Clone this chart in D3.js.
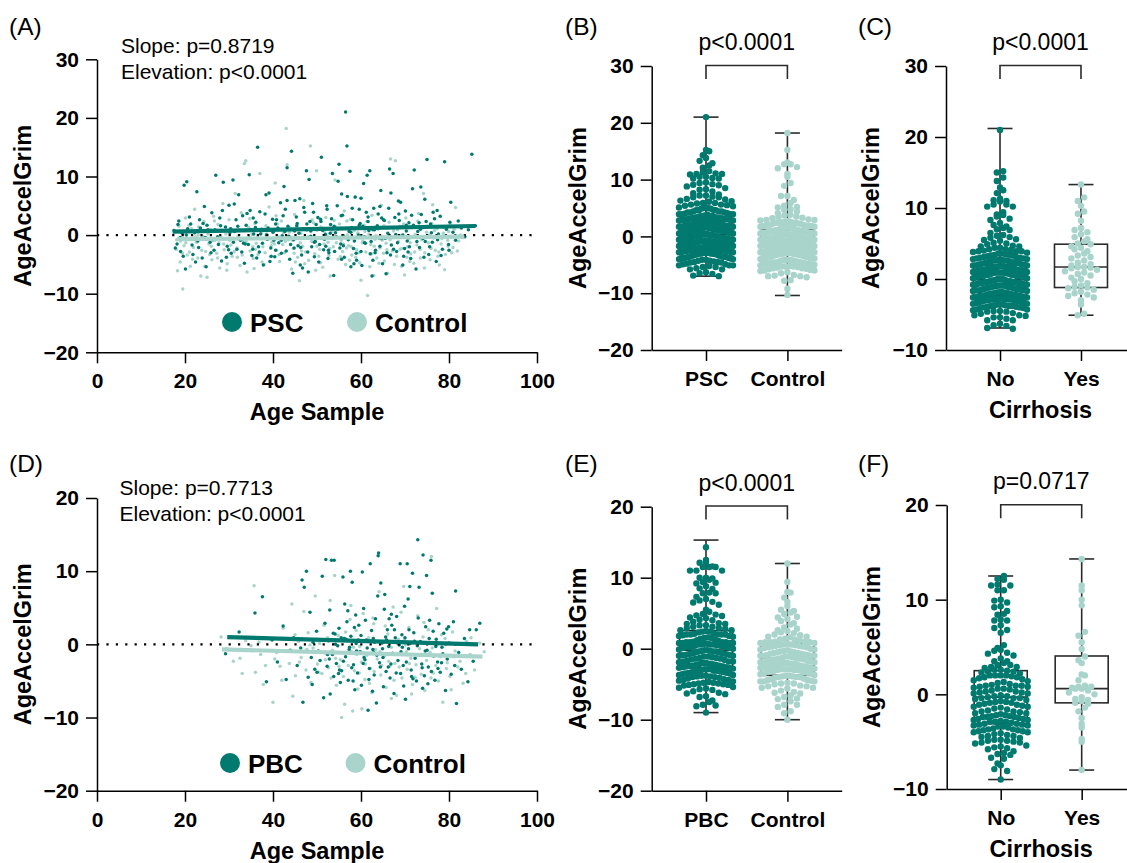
<!DOCTYPE html>
<html>
<head>
<meta charset="utf-8">
<title>AgeAccelGrim</title>
<script src="https://d3js.org/d3.v7.min.js"></script>
<style>
  body { margin: 0; background: #fff; }
  text { font-family: "Liberation Sans", Arial, sans-serif; }
</style>
</head>
<body>
<script>
// ---- data ----
// PSC patients [age, AgeAccelGrim], split by cirrhosis
var pscNoCirr = [[17.5,0.8],[18.2,-1.5],[18.6,2.4],[19.0,-2.8],[19.4,0.3],[19.8,8.5],[20.1,-5.8],[20.4,9.1],[20.9,-0.6],[21.3,1.9],[21.8,-3.3],[22.2,0.4],[22.7,7.4],[23.1,-2.1],[23.5,1.2],[23.9,-3.9],[24.4,4.9],[24.8,-5.4],[25.2,0.9],[25.7,-1.2],[26.1,3.8],[26.6,-2.6],[27.0,10.2],[27.4,-0.3],[27.9,2.9],[28.3,-4.4],[28.7,9.0],[29.2,1.4],[29.6,-1.9],[30.0,5.1],[30.5,-3.1],[30.9,9.4],[31.3,0.6],[31.8,-2.4],[32.2,6.9],[32.6,-0.9],[33.1,3.3],[33.5,-4.8],[33.9,1.7],[34.4,-1.6],[34.8,4.2],[35.2,-3.5],[35.6,0.2],[36.1,2.2],[36.5,15.0],[36.9,-2.9],[37.4,1.0],[37.8,-5.1],[38.2,3.6],[38.7,-0.7],[39.1,7.2],[39.5,-2.2],[40.0,0.5],[40.4,-3.7],[40.8,2.6],[41.3,-1.3],[41.7,5.5],[42.1,-0.1],[42.5,8.3],[43.0,-2.7],[43.4,1.5],[43.8,-4.1],[44.2,14.3],[44.5,-6.5],[44.9,0.7],[45.3,3.1],[45.7,-1.8],[46.1,6.2],[46.5,-3.4],[46.9,1.1],[47.3,-0.4],[47.6,11.0],[48.0,-6.3],[48.4,2.3],[48.8,-2.0],[49.2,3.9],[49.6,-1.1],[50.0,0.9],[50.4,-4.6],[50.8,2.7],[51.1,-0.6],[51.5,-2.5],[51.9,0.1],[52.3,4.4],[52.7,-3.0],[53.1,1.8],[53.5,10.5],[53.8,-6.9],[54.2,0.4],[54.6,5.0],[55.0,12.1],[55.4,-1.5],[55.8,3.4],[56.2,-3.8],[56.5,21.0],[56.8,15.2],[57.1,-0.8],[57.5,10.9],[57.9,1.3],[58.3,-2.3],[58.7,6.5],[59.0,-4.3],[59.4,0.0],[59.8,2.0],[60.2,-5.2],[60.6,8.8],[61.0,-1.4],[61.4,10.2],[61.8,0.8],[62.1,-3.2],[62.5,-7.0],[62.9,4.6],[63.3,-2.6],[63.7,1.6],[64.1,-0.5],[64.5,7.6],[64.9,-4.9],[65.3,2.5],[65.7,-6.6],[66.1,0.3],[66.5,11.3],[66.9,-1.7],[67.3,10.5],[67.7,3.0],[68.1,-2.8],[68.5,5.8],[68.9,-0.2],[69.3,1.4],[69.7,-3.6],[70.1,4.1],[70.5,-1.0],[70.9,2.1],[71.3,-4.0],[71.7,7.9],[72.1,11.1],[72.5,-5.8],[72.9,0.6],[73.3,-2.1],[73.7,3.5],[74.1,-0.6],[74.5,6.1],[75.0,12.9],[75.4,-3.3],[75.8,1.9],[76.2,-1.2],[76.7,2.8],[77.1,-4.5],[77.6,0.2],[78.0,3.2],[78.5,-2.4],[79.0,12.5],[79.4,1.0],[79.9,-1.6],[80.4,5.6],[80.9,0.5],[81.5,-0.9],[82.1,2.4],[82.8,1.2],[83.6,-0.3],[84.4,0.9],[85.2,13.8],[86.0,1.6],
  [18.9,-0.4],[20.6,1.1],[22.9,-1.0],[24.1,2.0],[26.3,-0.8],[28.1,1.6],[29.9,-2.5],[31.6,2.6],[33.3,-1.4],[35.0,0.9],[36.7,-2.0],[38.9,1.2],[40.2,-0.9],[42.3,3.3],[44.0,-1.6],[45.9,0.3],[47.9,-2.9],[49.8,1.8],[51.7,-0.7],[53.3,2.8],[55.2,-2.2],[57.3,0.6],[58.9,-3.1],[60.4,1.5],[62.3,-1.1],[63.9,3.6],[65.9,-3.0],[67.9,0.1],[69.9,-2.3],[71.9,1.7],[73.9,-0.4],[76.0,0.4],[78.2,-3.5],[80.2,2.2],[36.3,-3.9],[47.0,4.7],[55.6,-4.1],[61.2,3.9],[43.6,-0.2],[52.0,-1.9],
  [17.8,-2.2],[18.4,1.8],[19.6,-3.6],[20.3,0.0],[21.0,3.1],[21.6,-1.7],[22.4,-4.6],[23.3,2.6],[24.6,-0.4],[25.0,1.7],[25.9,-3.0],[26.8,0.9],[27.6,-1.6],[28.5,4.2],[29.4,-3.8],[30.2,0.4],[31.0,-1.2],[32.0,1.5],[32.9,-2.9],[34.1,3.7],[34.6,-0.5],[35.4,-2.4],[36.0,1.3],[37.0,4.0],[37.6,-1.4],[38.5,0.0],[39.3,-4.5],[39.9,2.7],[40.6,-2.6],[41.1,1.2],[41.9,-3.1],[42.7,0.6],[43.2,5.9],[44.7,-0.8],[45.5,2.0],[46.3,-2.1],[46.7,-5.6],[47.7,1.9],[48.6,-0.2],[49.0,5.4],[49.4,-3.7],[50.2,3.0],[50.6,-1.6],[51.3,0.8],[52.5,-4.0],[53.0,0.3],[54.0,-2.8],[54.8,1.1],[55.6,7.0],[56.0,-0.1],[57.7,-5.4],[58.1,2.6],[58.5,-1.0],[59.6,4.4],[60.0,-2.8],[60.8,-0.3],[61.6,2.3],[62.7,-4.3],[63.1,0.9],[64.3,-1.9],[64.7,2.9],[65.5,-0.6],[66.3,4.6],[66.7,-3.4],[67.5,1.3],[68.3,-1.3],[68.7,2.5],[69.5,-5.1],[70.3,0.7],[70.7,-2.9],[71.5,3.4],[72.7,-1.1],[73.5,1.0],[74.3,-3.8],[74.8,2.3],[75.6,-2.0],[76.4,3.9],[77.4,-0.8],[78.7,1.4],[80.0,-2.6]];
var pscCirr = [[46.2,-5.1],[58.4,-4.9],[39.6,-3.6],[63.2,-3.0],[52.6,-2.6],[67.4,-2.4],[44.8,-2.2],[71.0,-2.0],[56.0,-1.8],[33.7,-1.5],[60.8,-1.3],[49.4,-1.2],[74.6,-1.1],[41.9,-0.9],[64.7,-0.6],[54.4,-0.3],[69.5,0.0],[37.2,0.2],[57.7,0.5],[48.6,0.7],[62.7,0.9],[30.4,1.1],[66.2,1.3],[53.9,1.5],[45.4,1.6],[70.3,1.7],[59.6,1.7],[40.6,1.9],[73.2,2.1],[50.9,2.3],[65.1,2.6],[35.5,2.9],[61.6,3.1],[55.5,3.3],[68.6,3.6],[47.2,3.9],[77.3,4.2],[42.8,4.4],[58.0,4.6],[64.3,4.9],[52.2,5.0],[31.2,5.3],[69.0,5.6],[45.0,5.9],[60.0,6.3],[56.9,6.6],[38.4,6.9],[66.8,7.2],[73.6,8.2],[54.8,9.2],[48.2,9.5],[34.6,10.3],[62.0,11.0],[43.2,11.5],[51.0,13.3]];
// controls matched to PSC
var pscControl = [[18.0,-2.4],[18.3,-6.1],[18.6,1.5],[18.9,-4.6],[19.2,0.4],[19.5,-9.2],[19.8,-1.8],[20.1,2.9],[20.5,-3.4],[20.8,-0.6],[21.2,-5.3],[21.5,1.1],[21.9,-2.1],[22.2,4.4],[22.6,-1.2],[22.9,-3.9],[23.3,0.7],[23.6,-7.0],[24.0,-0.2],[24.3,2.3],[24.7,-2.8],[25.0,-7.2],[25.4,-1.5],[25.8,0.9],[26.1,-4.2],[26.5,3.2],[26.8,-0.9],[27.2,-3.1],[27.5,1.8],[27.9,-5.6],[28.2,-0.4],[28.6,5.4],[28.9,-2.5],[29.3,0.2],[29.6,-4.9],[30.0,2.6],[30.4,-1.7],[30.7,-3.6],[31.1,0.6],[31.4,7.1],[31.8,-2.2],[32.1,-0.1],[32.5,-5.2],[32.8,3.8],[33.2,-1.0],[33.5,12.2],[33.8,12.7],[34.1,-6.3],[34.5,1.3],[34.8,-2.7],[35.2,0.1],[35.5,-4.0],[35.9,2.0],[36.2,-1.4],[36.6,-3.3],[37.0,10.5],[37.3,0.5],[37.7,-2.0],[38.0,-5.0],[38.4,1.6],[38.7,-0.7],[39.1,4.8],[39.4,-3.7],[39.8,-1.2],[40.1,0.9],[40.5,8.9],[40.8,-2.6],[41.2,-0.3],[41.5,-4.5],[41.9,2.4],[42.2,-1.6],[42.6,-3.0],[43.0,18.2],[43.2,12.0],[43.5,-0.8],[43.9,1.2],[44.2,-5.8],[44.6,-2.3],[44.9,3.5],[45.3,-0.5],[45.6,-3.8],[46.0,-7.8],[46.3,0.3],[46.7,-1.9],[47.0,5.9],[47.4,-2.9],[47.7,0.8],[48.1,-4.3],[48.5,15.2],[48.8,-1.1],[49.2,2.1],[49.5,-3.2],[49.9,11.0],[50.2,-0.6],[50.6,-2.4],[50.9,1.4],[51.3,-5.5],[51.6,-1.5],[52.0,3.0],[52.3,-0.2],[52.7,-3.5],[53.0,-7.0],[53.4,0.6],[53.7,-2.0],[54.1,9.4],[54.4,-1.3],[54.8,-4.1],[55.1,1.9],[55.5,-0.9],[55.8,-2.8],[56.2,4.1],[56.5,-5.0],[56.9,0.0],[57.2,-1.8],[57.6,2.7],[57.9,-3.4],[58.3,-0.4],[58.6,6.4],[59.0,-2.5],[59.3,0.4],[59.7,-4.7],[60.0,-7.7],[60.4,-1.0],[60.7,1.7],[61.1,-2.9],[61.5,-10.3],[61.8,0.2],[62.2,-1.6],[62.5,3.4],[62.9,-6.9],[63.2,-0.7],[63.6,-3.9],[63.9,1.0],[64.3,-2.2],[64.6,5.1],[65.0,-0.3],[65.3,-4.4],[65.7,-1.4],[66.0,-6.5],[66.4,2.2],[66.7,13.0],[67.1,-2.7],[67.4,0.7],[67.8,12.7],[68.1,-3.6],[68.5,-1.1],[68.8,1.5],[69.2,-5.3],[69.5,-0.1],[69.9,-6.8],[70.2,2.9],[70.6,-2.0],[70.9,-0.6],[71.3,-3.2],[71.6,1.3],[72.0,-4.8],[72.3,0.1],[72.7,-1.7],[73.1,3.7],[73.4,-2.4],[73.8,-0.8],[74.2,7.1],[74.5,-3.0],[74.9,0.5],[75.3,-1.3],[75.7,-4.2],[76.1,2.0],[76.5,-0.5],[76.9,-2.6],[77.3,1.1],[77.8,-5.1],[78.2,-1.5],[78.7,0.3],[79.2,-3.3],[79.7,-0.9],[80.3,1.8],[80.9,-2.1],[81.5,4.7],[82.2,-1.0],[83.0,-0.4],
  [19.0,-1.0],[21.0,-2.9],[23.0,0.0],[25.6,-3.3],[27.7,-1.3],[29.8,0.7],[31.9,-3.8],[34.0,-0.6],[36.0,-2.4],[38.2,-3.0],[40.3,-1.5],[42.4,0.4],[44.4,-0.9],[46.5,-2.7],[48.3,1.0],[50.4,-3.6],[52.5,-1.2],[54.6,0.9],[56.7,-2.2],[58.8,-3.8],[60.9,0.6],[63.0,-1.9],[65.1,-3.1],[67.2,1.2],[69.3,-2.3],[71.4,-0.4],[73.5,-3.9],[75.6,0.0],[77.7,-2.9],[79.8,-1.9],[45.1,-4.6],[57.4,-4.3],[62.0,-5.4],[35.7,-5.7],[49.7,-6.0],[71.1,-4.5],[53.9,2.5],[41.0,1.9],[64.8,-0.9],[30.2,-0.9],
  [18.1,-0.8],[18.8,0.7],[19.4,-3.1],[20.2,-1.3],[20.9,1.7],[21.7,-4.1],[22.4,-0.3],[23.1,1.4],[23.8,-2.6],[24.5,-5.3],[25.2,0.2],[26.0,-1.9],[26.7,2.4],[27.4,-3.9],[28.0,0.6],[28.8,-1.5],[29.5,-6.0],[30.3,1.1],[31.2,-2.8],[32.3,0.9],[33.0,-3.4],[33.9,-1.1],[34.7,2.8],[35.4,-2.0],[36.4,-0.4],[37.5,-4.6],[38.6,0.2],[39.6,-1.8],[40.7,3.3],[41.4,-3.3],[42.8,-1.1],[43.7,0.5],[44.8,-3.1],[45.4,1.6],[46.2,-1.3],[47.2,-4.9],[47.9,-0.3],[48.9,2.6],[50.0,-1.9],[50.8,-4.7],[51.8,0.4],[52.9,-2.3],[53.6,-0.6],[54.3,1.4],[55.3,-3.7],[56.0,-1.5],[56.8,2.4],[57.8,-2.0],[58.5,0.8],[59.5,-3.0],[60.3,-1.3],[61.3,2.3],[62.4,-3.2],[63.4,-0.1],[64.1,-4.8],[65.2,1.6],[65.9,-2.5],[66.6,-0.8],[67.6,-5.0],[68.3,0.9],[68.9,-2.4],[69.7,1.9],[70.4,-3.8],[71.2,-1.3],[72.2,-2.9],[72.9,2.4],[73.6,-0.5],[74.4,-5.6],[75.1,1.5],[75.9,-2.3],[76.7,0.8],[77.5,-3.6],[78.4,-0.6],[79.0,-5.9],[79.9,0.6],[80.6,-3.0],[81.2,1.0],[81.9,-2.7],[82.6,0.0],[76.3,5.2]];

// PBC patients [age, AgeAccelGrim], split by cirrhosis
var pbcNoCirr = [[29.2,-1.3],[32.3,1.7],[35.9,4.3],[37.6,6.5],[38.5,-5.1],[39.8,0.6],[41.0,-2.4],[42.3,2.5],[43.0,-4.8],[43.9,-0.8],[44.7,0.9],[45.5,-2.9],[46.3,-0.5],[46.6,8.8],[46.8,-7.9],[47.1,7.8],[47.6,10.0],[48.0,-4.5],[48.4,4.4],[48.7,-1.8],[49.1,0.3],[49.5,-3.4],[49.9,1.8],[50.3,-0.9],[50.7,-2.2],[51.2,9.3],[51.5,-7.3],[51.8,2.9],[52.0,11.6],[52.3,-3.0],[52.6,0.5],[52.9,4.7],[53.3,11.5],[53.5,-1.4],[53.8,-4.4],[54.1,1.4],[54.4,-2.6],[54.7,-0.2],[55.0,2.2],[55.3,-5.2],[55.6,-3.6],[55.9,9.2],[56.2,0.8],[56.5,-1.7],[56.8,3.1],[57.1,-4.9],[57.4,-0.4],[57.7,1.1],[58.0,8.5],[58.3,-2.8],[58.6,-6.2],[58.9,0.1],[59.2,-3.9],[59.5,2.6],[59.8,-1.0],[60.1,-5.6],[60.3,9.9],[60.6,4.9],[60.9,-2.1],[61.2,0.6],[61.6,-9.0],[61.9,-3.3],[62.1,11.0],[62.4,1.9],[62.7,-0.7],[63.0,-4.2],[63.3,3.5],[63.6,-1.5],[63.9,12.1],[64.0,12.5],[64.2,-2.5],[64.5,8.4],[64.8,0.2],[65.1,-5.8],[65.4,6.8],[65.7,-3.7],[66.0,2.0],[66.3,-0.3],[66.6,-4.6],[66.9,4.1],[67.2,-1.2],[67.5,-6.7],[67.8,0.9],[68.1,3.8],[68.4,-2.2],[68.7,-0.1],[69.0,-4.0],[69.3,1.3],[69.6,-2.9],[69.9,5.2],[70.1,-7.5],[70.5,11.0],[70.8,-0.6],[71.1,7.9],[71.4,-3.5],[71.7,9.7],[72.0,1.6],[72.3,-1.9],[72.6,-5.0],[73.2,7.8],[73.5,0.4],[73.8,-2.7],[74.1,12.2],[74.4,-4.3],[74.7,2.4],[75.0,-0.8],[75.3,-3.1],[75.6,3.3],[75.9,11.5],[76.2,7.0],[76.5,-1.6],[76.8,-4.9],[77.1,0.7],[77.4,-2.4],[77.7,2.8],[78.0,-3.8],[78.4,-0.4],[78.8,1.5],[79.2,-6.3],[79.6,-2.0],[80.0,0.2],[80.5,-4.1],[81.0,3.1],[81.5,7.3],[81.7,-8.1],[82.2,-1.1],[82.8,-3.4],[83.5,0.8],[84.3,-5.1],[84.7,2.0],[85.5,-2.3],[86.2,2.0],[87.0,2.9],
  [50.0,-3.8],[52.8,-2.0],[54.9,-4.0],[56.0,-2.3],[57.9,-3.2],[59.0,-0.9],[60.5,-2.6],[61.8,-4.8],[62.9,-1.1],[64.4,-3.1],[65.6,1.0],[66.8,-2.7],[68.0,-3.9],[69.4,-0.4],[70.3,-2.4],[71.5,-4.4],[72.8,-0.2],[73.9,-3.2],[75.2,-5.4],[76.4,1.8],[77.5,-3.3],[78.6,-1.3],[79.9,2.4],[81.3,-2.9],[58.5,2.3],[63.1,0.3],[67.0,2.6],[71.2,0.1],[55.5,0.9],[60.0,1.2],[65.0,-1.8],[69.7,-5.7],[74.0,-6.0],[62.6,-6.4],[57.0,4.6],[66.4,3.5],[70.9,2.0],[48.9,-5.5],[53.0,-6.8],[76.0,-3.7]];
var pbcCirr = [[63.5,-8.0],[58.2,-5.0],[71.8,-4.7],[55.1,-3.5],[66.2,-3.1],[78.3,-2.5],[60.7,-1.8],[52.4,-1.4],[69.1,-1.0],[74.6,-0.9],[57.3,-0.7],[64.9,-0.6],[61.4,-0.5],[77.0,-0.3],[54.2,0.0],[68.3,0.2],[72.2,0.4],[59.4,0.6],[65.8,0.6],[56.6,0.7],[75.5,0.8],[62.8,0.8],[70.0,0.9],[53.7,1.5],[67.6,2.0],[79.5,2.1],[61.0,3.3],[73.0,3.6],[58.8,4.0],[65.3,4.8],[56.3,5.5],[70.7,6.2],[63.8,6.6],[74.9,9.4],[57.6,10.0],[68.9,11.0],[53.9,11.5],[72.9,14.3]];
var pbcControl = [[28.2,1.0],[29.5,-0.6],[31.0,-2.3],[32.5,-1.9],[33.8,0.5],[35.0,-0.2],[35.7,8.0],[36.0,-3.8],[37.2,-1.4],[38.3,-2.9],[39.1,0.8],[40.0,-7.9],[40.8,-1.1],[41.6,-3.0],[42.3,2.2],[43.0,-0.9],[43.7,-2.6],[44.3,5.5],[44.5,-7.1],[45.1,-4.3],[45.8,0.4],[46.4,-1.8],[47.0,4.5],[47.5,-3.5],[48.0,1.6],[48.6,-5.2],[49.1,-0.5],[49.6,6.6],[50.1,-2.7],[50.6,0.1],[51.1,-4.0],[51.6,2.6],[52.1,-1.3],[52.6,-3.2],[53.0,6.0],[53.5,-0.8],[54.0,9.4],[54.4,-5.6],[54.8,1.2],[55.3,-2.1],[55.6,-10.0],[56.0,-4.4],[56.3,-8.2],[56.7,0.6],[57.1,-2.9],[57.5,3.4],[57.9,-1.0],[58.1,-9.1],[58.5,-3.6],[58.9,1.9],[59.3,-6.1],[59.7,-0.3],[60.1,-2.4],[60.5,4.2],[60.9,-4.8],[61.3,-1.5],[61.7,0.9],[62.1,-3.3],[62.5,-6.6],[62.9,2.8],[63.3,-0.7],[63.7,-2.0],[64.1,7.2],[64.5,-4.2],[64.9,0.3],[65.3,-1.6],[65.7,-5.9],[66.1,1.4],[66.5,-3.0],[66.9,-0.4],[67.3,5.1],[67.7,-2.6],[68.1,-7.0],[68.5,0.7],[68.9,-1.2],[69.3,-4.6],[69.7,7.9],[70.1,-0.1],[70.5,-3.4],[70.9,2.3],[71.3,-1.9],[71.7,-5.5],[72.1,0.5],[72.5,-2.8],[72.9,3.9],[73.3,-0.6],[73.7,-4.1],[74.1,1.0],[74.5,-6.3],[74.9,-2.2],[75.3,2.0],[75.7,-1.1],[76.0,12.0],[76.4,-3.9],[76.8,0.0],[77.2,4.9],[77.6,-5.0],[78.0,-1.7],[78.6,-7.9],[79.1,0.8],[79.6,-2.5],[80.2,-4.4],[80.8,1.7],[81.4,-0.9],[82.0,-3.1],[82.5,-2.3],[83.2,-5.3],[84.0,0.4],[84.8,-1.4],[85.8,-3.5],[87.0,0.2],[88.0,-1.0],
  [37.8,-5.5],[42.0,-4.9],[46.0,-2.4],[48.4,-0.1],[50.4,-3.8],[52.4,0.9],[53.2,-4.6],[55.0,-3.0],[56.5,1.7],[58.3,-0.4],[59.6,-3.9],[61.0,-2.7],[61.9,-5.3],[63.0,-3.7],[64.3,-1.0],[65.5,2.5],[66.3,-2.3],[67.5,-4.9],[68.7,-3.1],[69.9,0.6],[71.0,-2.6],[72.3,-4.5],[73.5,-1.5],[74.7,0.2],[75.9,-4.6],[77.0,-2.9],[78.3,1.3],[79.4,-3.3],[81.0,-1.7],[83.8,-4.0],[60.2,-8.8],[66.9,-7.4],[71.5,-6.8],[57.7,5.3],[62.7,3.6],[69.1,4.4],[74.3,3.0],[54.2,-1.9],[59.0,-1.4],[64.7,-2.9],[70.3,-1.0],[76.2,-0.5],[51.9,-2.1],[47.7,-0.7],[45.0,1.3],[40.4,-2.0],[36.8,0.3],[33.0,-4.0],[80.5,-6.2],[85.0,0.9]];

// fitted regression lines [age, value] at both ends
var pscFit = [[17.2, 0.6], [86.0, 1.55]];
var pscCtrlFit = [[18.2, -0.7], [83.5, -0.25]];
var pbcFit = [[29.6, 1.0], [86.6, 0.0]];
var pbcCtrlFit = [[28.4, -0.68], [87.6, -1.68]];

// box plot summaries [min, q1, median, q3, max]
var boxPSC = [-7.0, -1.8, 0.3, 2.9, 21.0];
var boxPSCctrl = [-10.4, -2.9, -0.8, 1.2, 18.2];
var boxPSCno = [-6.9, -2.35, -0.1, 1.97, 21.2];
var boxPSCyes = [-5.1, -1.2, 1.7, 4.9, 13.3];
var boxPBC = [-9.0, -2.7, -0.2, 2.55, 15.3];
var boxPBCctrl = [-10.0, -3.75, -1.3, 0.76, 12.0];
var boxPBCno = [-9.0, -3.1, -0.3, 2.5, 12.5];
var boxPBCyes = [-8.0, -0.9, 0.6, 4.05, 14.3];

var ticks30 = [-20, -10, 0, 10, 20, 30];
var ticks30c = [-10, 0, 10, 20, 30];
var ticks20 = [-20, -10, 0, 10, 20];
var ticks20c = [-10, 0, 10, 20];
var ageTicks = [0, 20, 40, 60, 80, 100];

var teal = "#00796f", mint = "#a9d4cb";

var svg = d3.select("body").append("svg")
    .attr("width", 1127).attr("height", 863);

function val(d) { return d[1]; }

// shared axis styling
function styleAxis(g) {
    g.select(".domain").attr("stroke", "#000").attr("stroke-width", 1.5);
    g.selectAll(".tick line").attr("stroke", "#000").attr("stroke-width", 1.5);
    g.selectAll(".tick text").attr("fill", "#000")
        .style("font-size", "21px").style("font-weight", "bold")
        .style("font-family", "'Liberation Sans', Arial, sans-serif");
}

function drawYAxis(y, ticks, x0, titleX) {
    var g = svg.append("g").attr("transform", "translate(" + x0 + ",0)")
        .call(d3.axisLeft(y).tickValues(ticks).tickSize(11).tickSizeOuter(0).tickPadding(7));
    styleAxis(g);
    var r = y.range();
    svg.append("text")
        .attr("transform", "translate(" + titleX + "," + ((r[0] + r[1]) / 2) + ") rotate(-90)")
        .attr("text-anchor", "middle")
        .style("font-size", "23.5px").style("font-weight", "bold")
        .text("AgeAccelGrim");
}

function panelLabel(txt, x, y) {
    svg.append("text").attr("x", x).attr("y", y)
        .style("font-size", "24.5px").text(txt);
}

// scatter panel (A, D)
function scatterPanel(o) {
    var x = d3.scaleLinear().domain([0, 100]).range([97, 537]);
    var y = d3.scaleLinear().domain(o.yDom).range(o.yRange);

    var gx = svg.append("g").attr("transform", "translate(0," + o.yRange[0] + ")")
        .call(d3.axisBottom(x).tickValues(ageTicks).tickSize(11).tickSizeOuter(0).tickPadding(10));
    styleAxis(gx);
    drawYAxis(y, o.yTicks, 97, 31);

    svg.append("text").attr("x", 317).attr("y", o.yRange[0] + 68)
        .attr("text-anchor", "middle")
        .style("font-size", "23.5px").style("font-weight", "bold")
        .text("Age Sample");

    // dots: controls first, patients on top
    svg.append("g").selectAll("circle").data(o.ctrl).join("circle")
        .attr("cx", function (d) { return x(d[0]); })
        .attr("cy", function (d) { return y(d[1]); })
        .attr("r", 1.75).attr("fill", mint);
    svg.append("g").selectAll("circle").data(o.pts).join("circle")
        .attr("cx", function (d) { return x(d[0]); })
        .attr("cy", function (d) { return y(d[1]); })
        .attr("r", 1.75).attr("fill", teal);

    // zero reference
    svg.append("line")
        .attr("x1", x(0)).attr("x2", x(100)).attr("y1", y(0)).attr("y2", y(0))
        .attr("stroke", "#000").attr("stroke-width", 2.2)
        .attr("stroke-dasharray", "2.2,7.2");

    var line = d3.line().x(function (d) { return x(d[0]); }).y(function (d) { return y(d[1]); });
    svg.append("path").datum(o.ctrlFit).attr("d", line)
        .attr("stroke", mint).attr("stroke-width", 4.2).attr("fill", "none");
    svg.append("path").datum(o.fit).attr("d", line)
        .attr("stroke", teal).attr("stroke-width", 4.2).attr("fill", "none");

    // stats text
    svg.append("text").attr("x", o.statX).attr("y", o.statY)
        .style("font-size", "21px").text(o.slope);
    svg.append("text").attr("x", o.statX).attr("y", o.statY + 26)
        .style("font-size", "21px").text(o.elev);

    // legend
    var legend = [{ name: o.name, c: teal, cx: o.legX[0] }, { name: "Control", c: mint, cx: o.legX[1] }];
    legend.forEach(function (l) {
        svg.append("circle").attr("cx", l.cx).attr("cy", o.legY).attr("r", 10).attr("fill", l.c);
        svg.append("text").attr("x", l.cx + 18).attr("y", o.legY + 10)
            .style("font-size", "26px").style("font-weight", "bold").text(l.name);
    });
}

// swarm layout: points grouped into rows, squeezed to fit maxW
function swarm(values, y, cx, d, maxW) {
    var pts = values.map(function (v) { return { v: v, y: y(v) }; })
        .sort(function (a, b) { return a.y - b.y; });
    var rows = d3.group(pts, function (p) { return Math.round(p.y / d); });
    rows.forEach(function (row) {
        var n = row.length;
        var s = n > 1 ? Math.min(d, maxW / (n - 1)) : 0;
        // fill from the centre outwards
        row.forEach(function (p, i) {
            var k = (i % 2 === 0) ? i / 2 : -(i + 1) / 2;
            if (n % 2 === 0) k += 0.5;
            p.x = cx + k * s;
        });
    });
    return pts;
}

// box + swarm panel (B, C, E, F)
function swarmPanel(o) {
    var x = d3.scalePoint().domain(o.cats).range([o.x0, o.x1]).padding(0.667);
    var y = d3.scaleLinear().domain(o.yDom).range(o.yRange);

    var gx = svg.append("g").attr("transform", "translate(0," + o.yRange[0] + ")")
        .call(d3.axisBottom(x).tickSize(11).tickSizeOuter(0).tickPadding(10));
    styleAxis(gx);
    drawYAxis(y, o.yTicks, o.x0, o.titleX);

    if (o.xTitle) {
        svg.append("text").attr("x", (x(o.cats[0]) + x(o.cats[1])) / 2).attr("y", o.yRange[0] + 68)
            .attr("text-anchor", "middle")
            .style("font-size", "23.5px").style("font-weight", "bold")
            .text(o.xTitle);
    }

    o.cats.forEach(function (c, i) {
        var b = o.boxes[i], cx = x(c), hw = 26.5, cw = 12.5;
        var g = svg.append("g").attr("stroke", "#2b2b2b").attr("stroke-width", 1.6).attr("fill", "none");
        g.append("line").attr("x1", cx).attr("x2", cx).attr("y1", y(b[0])).attr("y2", y(b[4]));
        g.append("line").attr("x1", cx - cw).attr("x2", cx + cw).attr("y1", y(b[0])).attr("y2", y(b[0]));
        g.append("line").attr("x1", cx - cw).attr("x2", cx + cw).attr("y1", y(b[4])).attr("y2", y(b[4]));
        g.append("rect").attr("x", cx - hw).attr("width", 2 * hw)
            .attr("y", y(b[3])).attr("height", y(b[1]) - y(b[3])).attr("fill", "#fff");
        g.append("line").attr("x1", cx - hw).attr("x2", cx + hw).attr("y1", y(b[2])).attr("y2", y(b[2]));

        var pts = swarm(o.values[i], y, cx, 6.4, 54);
        svg.append("g").selectAll("circle").data(pts).join("circle")
            .attr("cx", function (p) { return p.x; })
            .attr("cy", function (p) { return p.y; })
            .attr("r", 3.2).attr("fill", o.colors[i]);
    });

    // significance bracket
    var xa = x(o.cats[0]), xb = x(o.cats[1]);
    svg.append("path")
        .attr("d", "M" + xa + "," + (o.brTop + 13.5) + "V" + o.brTop + "H" + xb + "V" + (o.brTop + 13.5))
        .attr("stroke", "#2b2b2b").attr("stroke-width", 1.6).attr("fill", "none");
    svg.append("text").attr("x", (xa + xb) / 2).attr("y", o.brTop - 15.5)
        .attr("text-anchor", "middle").style("font-size", "23px").text(o.p);
}

// ---- top row: PSC ----
scatterPanel({
    yDom: [-20, 30], yRange: [352.3, 59.3], yTicks: ticks30,
    pts: pscNoCirr.concat(pscCirr), ctrl: pscControl,
    fit: pscFit, ctrlFit: pscCtrlFit,
    slope: "Slope: p=0.8719", elev: "Elevation: p<0.0001", statX: 121, statY: 53,
    name: "PSC", legX: [232, 357], legY: 322
});
swarmPanel({
    cats: ["PSC", "Control"], x0: 651.7, x1: 841.7, titleX: 586,
    yDom: [-20, 30], yRange: [350, 66], yTicks: ticks30,
    values: [pscNoCirr.concat(pscCirr).map(val), pscControl.map(val)],
    boxes: [boxPSC, boxPSCctrl], colors: [teal, mint],
    brTop: 65.5, p: "p<0.0001"
});
swarmPanel({
    cats: ["No", "Yes"], x0: 946, x1: 1135, titleX: 879,
    yDom: [-10, 30], yRange: [350, 66], yTicks: ticks30c,
    values: [pscNoCirr.map(val), pscCirr.map(val)],
    boxes: [boxPSCno, boxPSCyes], colors: [teal, mint],
    brTop: 65.5, p: "p<0.0001", xTitle: "Cirrhosis"
});

// ---- bottom row: PBC ----
scatterPanel({
    yDom: [-20, 20], yRange: [790.7, 498], yTicks: ticks20,
    pts: pbcNoCirr.concat(pbcCirr), ctrl: pbcControl,
    fit: pbcFit, ctrlFit: pbcCtrlFit,
    slope: "Slope: p=0.7713", elev: "Elevation: p<0.0001", statX: 119.5, statY: 495,
    name: "PBC", legX: [230, 355.5], legY: 763
});
swarmPanel({
    cats: ["PBC", "Control"], x0: 651.7, x1: 841.7, titleX: 586,
    yDom: [-20, 20], yRange: [790.7, 506.7], yTicks: ticks20,
    values: [pbcNoCirr.concat(pbcCirr).map(val), pbcControl.map(val)],
    boxes: [boxPBC, boxPBCctrl], colors: [teal, mint],
    brTop: 506, p: "p<0.0001"
});
swarmPanel({
    cats: ["No", "Yes"], x0: 946.7, x1: 1135.7, titleX: 879.5,
    yDom: [-10, 20], yRange: [789, 505], yTicks: ticks20c,
    values: [pbcNoCirr.map(val), pbcCirr.map(val)],
    boxes: [boxPBCno, boxPBCyes], colors: [teal, mint],
    brTop: 504.7, p: "p=0.0717", xTitle: "Cirrhosis"
});

panelLabel("(A)", 9, 35);
panelLabel("(B)", 565, 35);
panelLabel("(C)", 858, 35);
panelLabel("(D)", 9, 472);
panelLabel("(E)", 565, 472);
panelLabel("(F)", 858, 472);
</script>
</body>
</html>
